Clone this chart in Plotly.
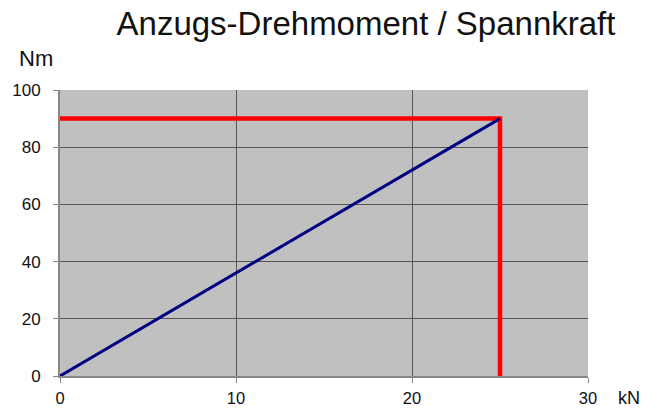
import plotly.graph_objects as go

force_kn = [0, 25]
torque_nm = [0, 90]
limit_x = [0, 25, 25]
limit_y = [90, 90, 0]
x_ticks = [0, 10, 20, 30]
y_ticks = [0, 20, 40, 60, 80, 100]

W, H = 657, 408
l, t = 60, 90
pw, ph = 528, 286
r = W - l - pw
b = H - t - ph

fig = go.Figure()
fig.add_trace(go.Scatter(x=limit_x, y=limit_y, mode="lines",
                         line=dict(color="#ff0000", width=4.5), showlegend=False))
fig.add_trace(go.Scatter(x=force_kn, y=torque_nm, mode="lines",
                         line=dict(color="#000080", width=3), showlegend=False))


def px2paper(px, py):
    return (px - l) / pw, (H - b - py) / ph


nm_x, nm_y = px2paper(36, 58)
kn_x, kn_y = px2paper(629, 398)
tt_x = 366 / W
tt_y = 1 - 23 / H

fig.update_layout(
    width=W, height=H,
    margin=dict(l=l, r=r, t=t, b=b, autoexpand=False),
    paper_bgcolor="white", plot_bgcolor="#c0c0c0",
    hovermode=False,
    font=dict(family="Liberation Sans, Arial, sans-serif", size=17, color="#111"),
    title=dict(text="Anzugs-Drehmoment / Spannkraft", x=tt_x, xanchor="center",
               y=tt_y, yanchor="middle", font=dict(size=33, color="#111")),
    xaxis=dict(range=[0, 30], tickvals=x_ticks, showgrid=True, gridcolor="#555",
               gridwidth=1, zeroline=False, showline=True, linecolor="#888", linewidth=2,
               ticks="outside", ticklen=5, tickcolor="#888", ticklabelstandoff=1,
               tickfont=dict(size=16.5), automargin=False),
    yaxis=dict(range=[0, 100], tickvals=y_ticks, showgrid=True, gridcolor="#555",
               gridwidth=1, zeroline=False, showline=True, linecolor="#888", linewidth=2,
               ticks="outside", ticklen=5, tickcolor="#888", ticklabelstandoff=9,
               automargin=False),
    annotations=[
        dict(text="Nm", x=nm_x, y=nm_y, xref="paper", yref="paper", showarrow=False,
             xanchor="center", yanchor="middle", font=dict(size=22)),
        dict(text="kN", x=kn_x, y=kn_y, xref="paper", yref="paper", showarrow=False,
             xanchor="center", yanchor="middle", font=dict(size=18)),
    ],
)
fig.write_html("out.html", config={"displayModeBar": False},
               post_script="document.body.style.margin='0';")
